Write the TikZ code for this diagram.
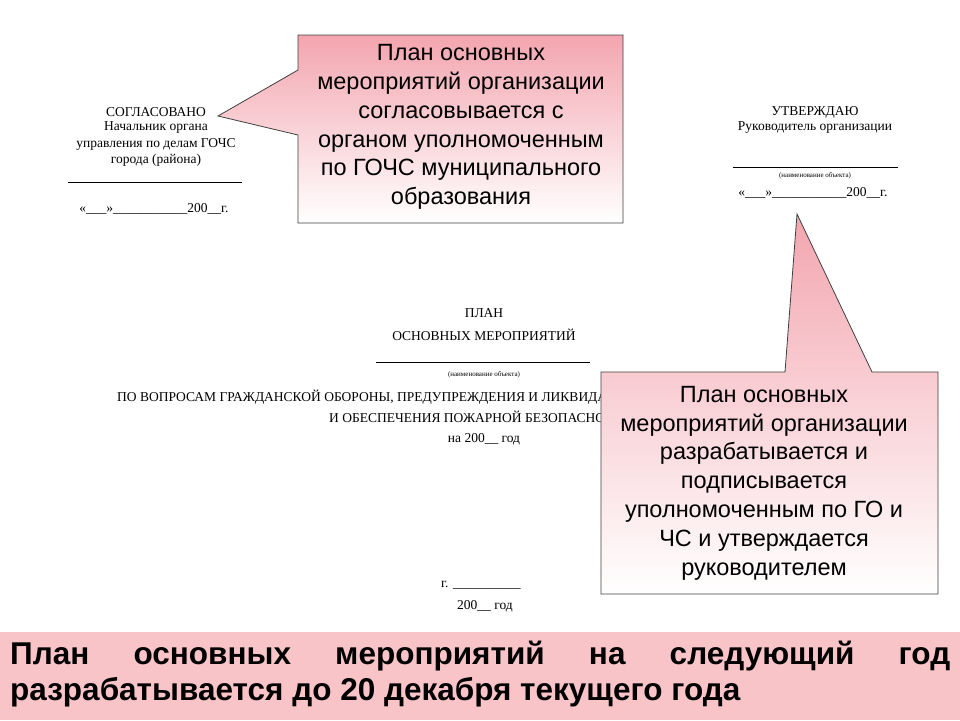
\documentclass[tikz,border=0pt]{standalone}
\usepackage{fontspec}
\setmainfont{Liberation Serif}
\newfontfamily\sans{Liberation Sans}
\definecolor{ptop}{RGB}{243,165,175}
\definecolor{band}{RGB}{248,196,200}
\begin{document}
\begin{tikzpicture}[x=1pt,y=-1pt,
  doc/.style={font=\fontsize{13.5}{15}\selectfont, anchor=center, inner sep=0},
  tiny/.style={font=\fontsize{7}{8}\selectfont, anchor=center, inner sep=0},
  callout/.style={draw=black!75, line width=0.8pt, top color=ptop, bottom color=white},
  ctext/.style={font=\sans\fontsize{23.5}{28.8}\selectfont, align=center, anchor=center, inner sep=0}]
\useasboundingbox (0,0) rectangle (960,720);
\fill[white] (0,0) rectangle (960,720);
% left document
\node[doc] (l1) at (156,112) {СОГЛАСОВАНО};
\node[doc] (l2) at (156,128) {Начальник органа};
\node[doc] (l3) at (156,144) {управления по делам ГОЧС};
\node[doc] (l4) at (156,160) {города (района)};
\draw[line width=0.6pt] (68,182) -- (242,182);
\node[doc] (l5) at (154,209) {«\_\_\_»\_\_\_\_\_\_\_\_\_\_\_200\_\_г.};
% right document
\node[doc] (r1) at (815,112) {УТВЕРЖДАЮ};
\node[doc] (r2) at (815,128) {Руководитель организации};
\draw[line width=0.6pt] (733,167) -- (898,167);
\node[tiny] (r3) at (815,176) {(наименование объекта)};
\node[doc] (r4) at (813,193) {«\_\_\_»\_\_\_\_\_\_\_\_\_\_\_200\_\_г.};
% middle document
\node[doc] (m1) at (484,313) {ПЛАН};
\node[doc] (m2) at (484,335) {ОСНОВНЫХ МЕРОПРИЯТИЙ};
\draw[line width=0.6pt] (376,362) -- (590,362);
\node[tiny] (m3) at (484,375) {(наименование объекта)};
\node[doc,anchor=west] (m4) at (117,397) {ПО ВОПРОСАМ ГРАЖДАНСКОЙ ОБОРОНЫ, ПРЕДУПРЕЖДЕНИЯ И ЛИКВИДАЦИИ};
\node[doc,anchor=west] (m5) at (329,417) {И ОБЕСПЕЧЕНИЯ ПОЖАРНОЙ БЕЗОПАСНОСТИ};
\node[doc] (m6) at (484,439) {на 200\_\_ год};
\node[doc,anchor=west] (m7) at (441,585) {г. \_\_\_\_\_\_\_\_\_\_};
\node[doc] (m8) at (485,606) {200\_\_ год};
% callout 1
\coordinate (t1) at (218,116);
\shadedraw[callout] (298,35) -- (623,35) -- (623,223) -- (298,223) -- (298,135) -- (t1) -- (298,70) -- cycle;
\node[ctext] (c1) at (461,127) {План основных\\мероприятий организации\\согласовывается с\\органом уполномоченным\\по ГОЧС муниципального\\образования};
% callout 2
\coordinate (t2) at (797,214);
\shadedraw[callout] (601,372) -- (785,372) -- (t2) -- (872,372) -- (938,372) -- (938,594) -- (601,594) -- cycle;
\node[ctext] (c2) at (764,483) {План основных\\мероприятий организации\\разрабатывается и\\подписывается\\уполномоченным по ГО и\\ЧС и утверждается\\руководителем};
% bottom band
\fill[band] (0,632) rectangle (960,720);
\node[font=\sans\bfseries\fontsize{31.5}{36}\selectfont, align=left, anchor=north west, inner sep=0] (b) at (10,641)
 {\hbox to 940pt{План\hfill основных\hfill мероприятий\hfill на\hfill следующий\hfill год}\\разрабатывается до 20 декабря текущего года};
\end{tikzpicture}
\end{document}
